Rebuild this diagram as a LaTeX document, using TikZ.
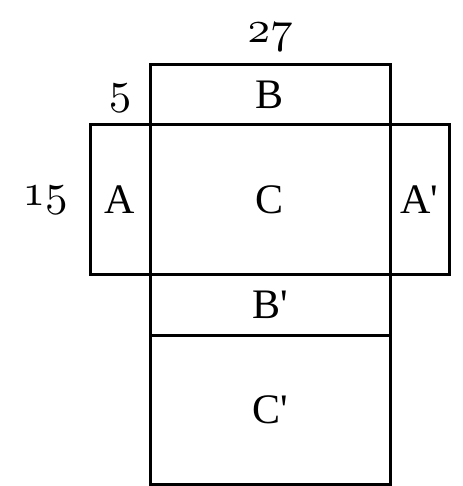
\documentclass[tikz,border=0pt]{standalone}
\usepackage{fontspec}
\setmainfont{Liberation Serif}
\newfontfamily\straight{Liberation Serif}[Ligatures=TeXOff]
\DeclareFontShape{OML}{cmm}{m}{it}{<->cmmi10}{}
\usetikzlibrary{positioning}
\newcommand{\pr}{{\straight\symbol{39}}}
\newcommand{\cotenum}[1]{$\mathnormal{#1}$}

\begin{document}
\begin{tikzpicture}[x=1pt, y=-1pt, line width=3pt, node distance=0pt]
\tikzset{face/.style={draw, rectangle, inner sep=0pt, outer sep=0pt, font=\fontsize{42}{42}\selectfont}}
\tikzset{cote/.style={inner sep=0pt, font=\fontsize{45}{45}\selectfont}}
\useasboundingbox (0, 0) rectangle (462, 486);
\node[face, minimum width=240pt, minimum height=149pt] (C) at (270, 199.5) {C};
\node[face, minimum width=240pt, minimum height=60pt, above=of C] (B) {B};
\node[face, minimum width=60pt, minimum height=149pt, left=of C] (A) {A};
\node[face, minimum width=59pt, minimum height=149pt, right=of C] (A2) {A\pr};
\node[face, minimum width=240pt, minimum height=61pt, below=of C] (B2) {B\pr};
\node[face, minimum width=240pt, minimum height=149pt, below=of B2] (C2) {C\pr};
\node[cote] (L27) at (270, 37) {\cotenum{27}};
\node[cote] (L5) at (120, 98) {\cotenum{5}};
\node[cote] (L15) at (45, 200) {\cotenum{15}};
\end{tikzpicture}
\end{document}
